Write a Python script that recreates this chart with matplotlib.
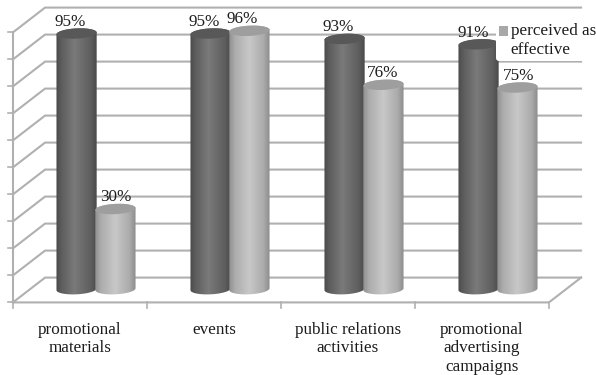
import numpy as np
import matplotlib
matplotlib.use("Agg")
import matplotlib.pyplot as plt
from matplotlib.colors import LinearSegmentedColormap
from matplotlib.patches import Patch, Polygon

categories = ["promotional\nmaterials", "events", "public relations\nactivities",
              "promotional\nadvertising\ncampaigns"]
group_a = [95, 95, 93, 91]
perceived_effective = [30, 96, 76, 75]
grid_values = list(range(0, 101, 10))
legend_label = "perceived as\neffective"

plt.rcParams["font.family"] = ["Liberation Serif", "DejaVu Serif"]
INK = "#1c1c1c"
GRID = "#b0b0b0"

fig = plt.figure(figsize=(5.96, 3.75), dpi=100, facecolor="white")
ax = fig.add_axes([0, 0, 1, 1])
# one category is 134 px wide, one percent is 2.7 px tall
ax.set_xlim(-96 / 134, 500 / 134)
ax.set_ylim(-85 / 2.7, 290 / 2.7)
ax.axis("off")

# depth of the floor and walls, in data units
DX, DY = 0.12, 4.6
x0, x1 = -0.5, 3.5

for g in grid_values:
    ax.plot([x0 - DX, x0 + DX, x1 + DX], [g - DY, g + DY, g + DY],
            color=GRID, lw=1.5, zorder=1, solid_joinstyle="miter")
    ax.plot([x0 - DX - 0.037, x0 - DX], [g - DY, g - DY], color=GRID, lw=1.2, zorder=1)
ax.plot([x0 - DX, x0 - DX], [-DY, 100 - DY], color=GRID, lw=1.5, zorder=1)
ax.plot([x0 - DX, x1 - DX, x1 + DX], [-DY, -DY, DY], color=GRID, lw=1.5, zorder=1)
for i in range(5):
    xt = x0 - DX + i
    ax.plot([xt, xt], [-DY, -DY - 1.9], color=GRID, lw=1.2, zorder=1)

dark_cmap = LinearSegmentedColormap.from_list(
    "dark", [(0, "#4a4a4a"), (0.12, "#5c5c5c"), (0.45, "#7a7a7a"), (0.85, "#5e5e5e"), (1, "#4a4a4a")])
light_cmap = LinearSegmentedColormap.from_list(
    "light", [(0, "#8f8f8f"), (0.15, "#adadad"), (0.5, "#c8c8c8"), (0.85, "#ababab"), (1, "#8c8c8c")])
ramp = np.linspace(0, 1, 128)[None, :]

A = 0.15   # cylinder half width
B = 1.9    # half height of the end ellipses
TILT = 0.35


def ellipse(cx, v, t):
    return np.column_stack([cx + A * np.cos(t), v + B * np.sin(t) + TILT * np.cos(t)])


def cylinder(cx, value, cmap, top_color, z):
    lower = ellipse(cx, 0.3, np.linspace(np.pi, 2 * np.pi, 40))
    upper = ellipse(cx, value, np.linspace(0, np.pi, 40))
    body = Polygon(np.vstack([lower, upper]), closed=True, transform=ax.transData,
                   fc="none", ec="none")
    ax.add_patch(body)
    img = ax.imshow(ramp, cmap=cmap, vmin=0, vmax=1, aspect="auto", zorder=z,
                    extent=[cx - A, cx + A, -5, value + 5], interpolation="bilinear")
    img.set_clip_path(body)
    ax.add_patch(Polygon(ellipse(cx, value, np.linspace(0, 2 * np.pi, 60)), closed=True,
                         fc=top_color, ec="none", zorder=z + 0.1))


OFFSET = 0.145
label_shift_a = [-6, -6, -6, -5]
label_shift_b = [0, -7, -1, 1]
for i in range(len(categories)):
    cylinder(i - OFFSET, group_a[i], dark_cmap, "#585858", 3)
    cylinder(i + OFFSET, perceived_effective[i], light_cmap, "#9e9e9e", 4)
    for cx, v, sh in ((i - OFFSET, group_a[i], label_shift_a[i]),
                      (i + OFFSET, perceived_effective[i], label_shift_b[i])):
        ax.annotate(f"{v}%", (cx, v), xytext=(sh * 0.72, 8.3), textcoords="offset points",
                    ha="center", va="center", fontsize=12.3, color=INK, zorder=6)
    ax.text(i - DX, -DY - 7.2, categories[i], ha="center", va="top", fontsize=12.3,
            color=INK, linespacing=1.2, zorder=6)

leg = ax.legend(handles=[Patch(fc="#a8a8a8", ec="none", label=legend_label)],
                loc="upper left", bbox_to_anchor=(496 / 596, 1 - 20 / 375),
                bbox_transform=fig.transFigure, frameon=True, facecolor="white",
                edgecolor="none", framealpha=1, fontsize=12.3, labelcolor=INK,
                handlelength=0.5, handleheight=0.5, handletextpad=0.15,
                borderpad=0.2, borderaxespad=0, labelspacing=0)
leg.set_zorder(5)
# the swatch sits beside the first line of the two-line label
swatch = leg.get_patches()[0]
swatch.set_y(swatch.get_y() + 7)

fig.savefig("out.png", dpi=100, facecolor="white")
